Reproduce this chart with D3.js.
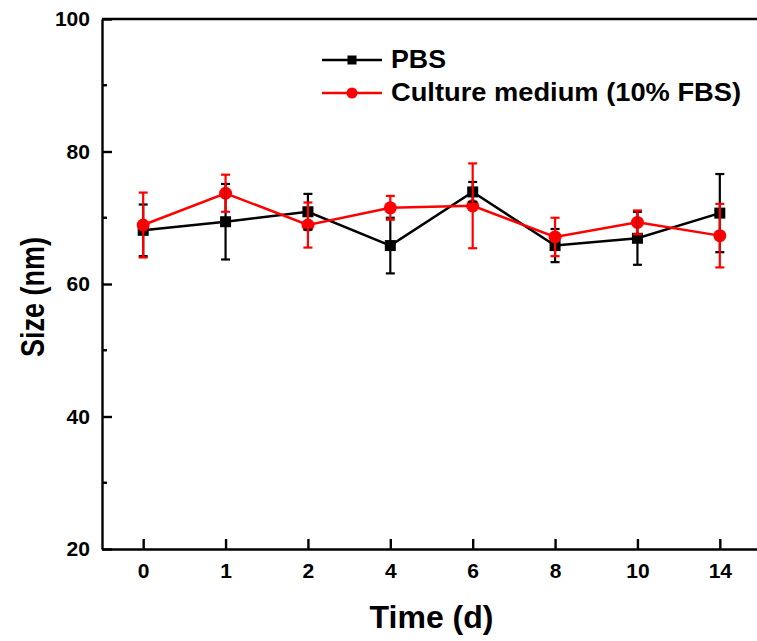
<!DOCTYPE html>
<html>
<head>
<meta charset="utf-8">
<script src="https://cdn.jsdelivr.net/npm/d3@7"></script>
<style>
  html, body { margin: 0; padding: 0; background: #fff; }
  svg { display: block; }
  text { font-family: "Liberation Sans", Arial, sans-serif; font-weight: bold; }
</style>
</head>
<body>
<svg id="chart" width="757" height="641"></svg>
<script>
const categories = ["0", "1", "2", "4", "6", "8", "10", "14"];
const pbsMean = [68.1, 69.4, 70.9, 65.8, 73.9, 65.8, 66.9, 70.7];
const pbsErr  = [3.9, 5.7, 2.7, 4.2, 1.5, 2.5, 4.0, 5.9];
const fbsMean = [68.9, 73.7, 68.9, 71.5, 71.8, 67.1, 69.3, 67.3];
const fbsErr  = [4.9, 2.8, 3.4, 1.8, 6.4, 2.9, 1.8, 4.8];
const yTicks = [20, 40, 60, 80, 100];
const yMinor = [30, 50, 70, 90];
const seriesNames = ["PBS", "Culture medium (10% FBS)"];

const svg = d3.select("#chart");
const pLeft = 102, pRight = 761, pTop = 19, pBottom = 549;

const x = d3.scalePoint().domain(categories).range([pLeft, pRight]).padding(0.5);
const y = d3.scaleLinear().domain([20, 100]).range([pBottom, pTop]);

// frame
svg.append("line").attr("x1", pLeft).attr("x2", pRight).attr("y1", pTop).attr("y2", pTop)
  .attr("stroke", "#000").attr("stroke-width", 2.4);

// y axis
const yAxis = svg.append("g").attr("transform", `translate(${pLeft},0)`)
  .call(d3.axisLeft(y).tickValues(yTicks).tickSizeInner(-10).tickSizeOuter(0).tickPadding(12));
yAxis.attr("font-size", null).attr("font-family", null);
yAxis.select(".domain").attr("stroke-width", 2.4);
yAxis.selectAll(".tick line").attr("stroke-width", 2.4);
yAxis.selectAll(".tick text").style("font-size", "21px").attr("fill", "#000")
  .attr("textLength", d => String(d).length * 11.7).attr("lengthAdjust", "spacingAndGlyphs");
svg.append("g").selectAll("line").data(yMinor).join("line")
  .attr("x1", pLeft).attr("x2", pLeft + 5).attr("y1", d => y(d)).attr("y2", d => y(d))
  .attr("stroke", "#000").attr("stroke-width", 2.4);

// x axis
const xAxis = svg.append("g").attr("transform", `translate(0,${pBottom})`)
  .call(d3.axisBottom(x).tickSizeInner(-10).tickSizeOuter(0).tickPadding(14));
xAxis.attr("font-size", null).attr("font-family", null);
xAxis.select(".domain").attr("stroke-width", 2.4);
xAxis.selectAll(".tick line").attr("stroke-width", 2.4);
xAxis.selectAll(".tick text").style("font-size", "21px").attr("fill", "#000");

// titles
svg.append("text").attr("x", (pLeft + pRight) / 2).attr("y", 628).attr("text-anchor", "middle")
  .attr("font-size", 32).text("Time (d)");
svg.append("text").attr("transform", `translate(44,297) scale(1.25,1) rotate(-90)`)
  .attr("text-anchor", "middle").attr("font-size", 27).text("Size (nm)");

const line = d3.line().x((d, i) => x(categories[i])).y(d => y(d));

function drawSeries(vals, color, marker) {
  svg.append("path").datum(vals).attr("d", line).attr("fill", "none")
    .attr("stroke", color).attr("stroke-width", 2.5);
  const g = svg.append("g");
  if (marker === "square") {
    g.selectAll("rect").data(vals).join("rect")
      .attr("x", (d, i) => x(categories[i]) - 5.5).attr("y", d => y(d) - 5.5)
      .attr("width", 11).attr("height", 11).attr("fill", color);
  } else {
    g.selectAll("circle").data(vals).join("circle")
      .attr("cx", (d, i) => x(categories[i])).attr("cy", d => y(d))
      .attr("r", 6.5).attr("fill", color);
  }
}
function drawErr(vals, errs, color) {
  const g = svg.append("g").attr("stroke", color).attr("stroke-width", 2.2);
  vals.forEach((v, i) => {
    const cx = x(categories[i]);
    g.append("line").attr("x1", cx).attr("x2", cx).attr("y1", y(v - errs[i])).attr("y2", y(v + errs[i]));
    g.append("line").attr("x1", cx - 4.5).attr("x2", cx + 4.5).attr("y1", y(v - errs[i])).attr("y2", y(v - errs[i]));
    g.append("line").attr("x1", cx - 4.5).attr("x2", cx + 4.5).attr("y1", y(v + errs[i])).attr("y2", y(v + errs[i]));
  });
}

drawSeries(pbsMean, "#000", "square");
drawSeries(fbsMean, "#ff0000", "circle");
drawErr(pbsMean, pbsErr, "#000");
drawErr(fbsMean, fbsErr, "#ff0000");

// legend
const legend = svg.append("g");
const legY = [60, 93];
const legColors = ["#000", "#ff0000"];
const legWidths = [55, 350];
seriesNames.forEach((name, i) => {
  legend.append("line").attr("x1", 322).attr("x2", 382).attr("y1", legY[i]).attr("y2", legY[i])
    .attr("stroke", legColors[i]).attr("stroke-width", 2.5);
  if (i === 0) {
    legend.append("rect").attr("x", 347.5).attr("y", legY[i] - 4.5).attr("width", 9).attr("height", 9).attr("fill", legColors[i]);
  } else {
    legend.append("circle").attr("cx", 352).attr("cy", legY[i]).attr("r", 5.5).attr("fill", legColors[i]);
  }
  legend.append("text").attr("x", 391).attr("y", legY[i] + 8).attr("font-size", 25)
    .attr("textLength", legWidths[i]).attr("lengthAdjust", "spacingAndGlyphs").text(name);
});
</script>
</body>
</html>
